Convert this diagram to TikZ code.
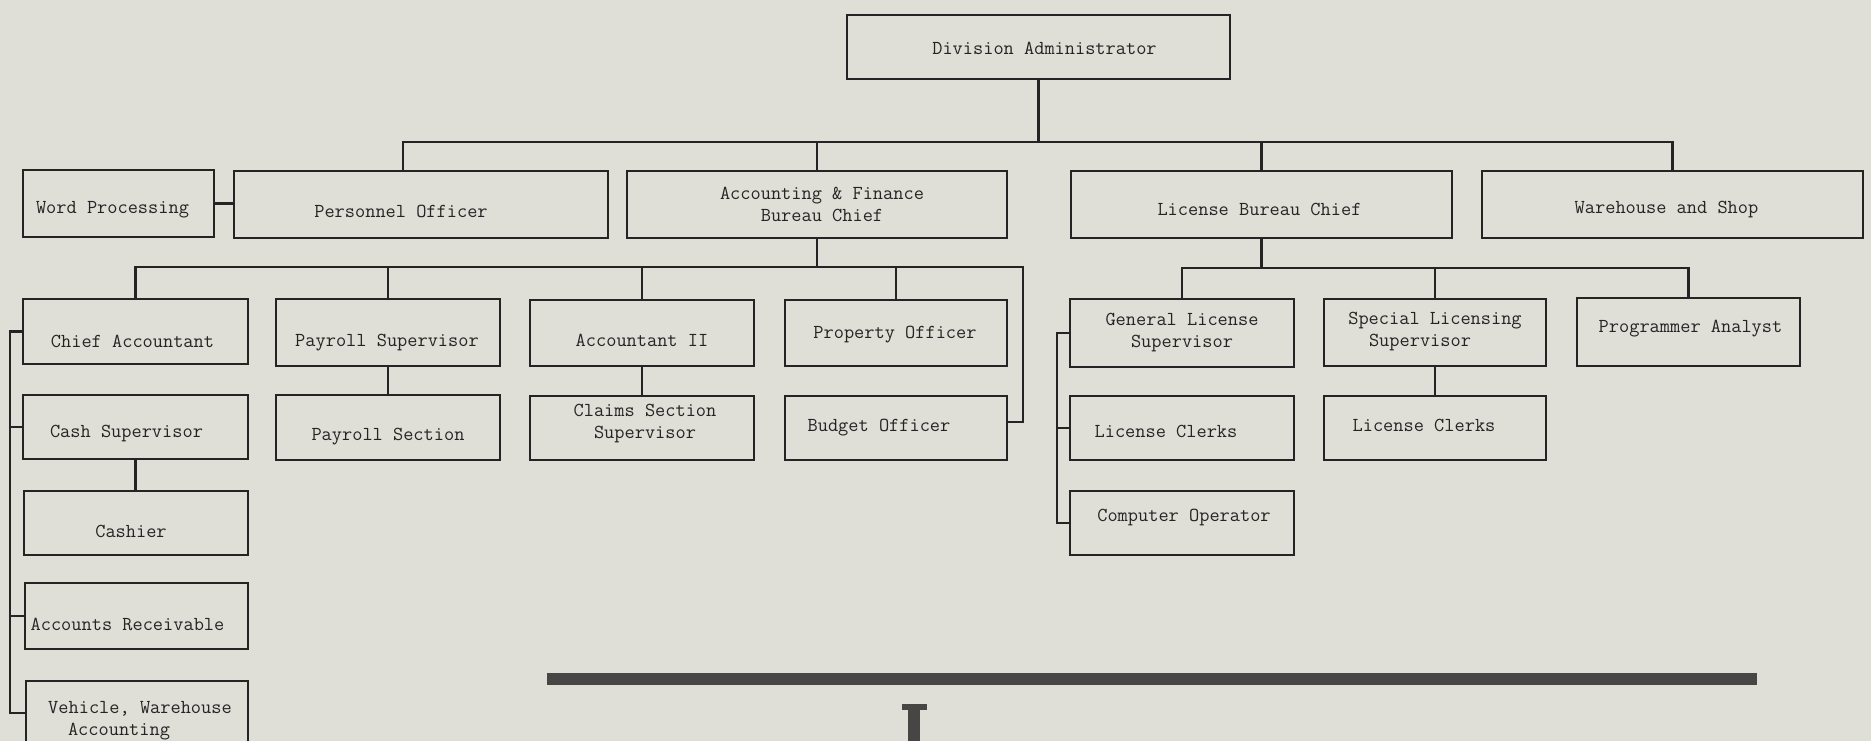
\documentclass[tikz,border=0pt]{standalone}
\usepackage{fontspec}
\usetikzlibrary{calc}
\definecolor{bg}{RGB}{223,222,215}
\definecolor{ink}{RGB}{36,36,36}
\definecolor{barc}{RGB}{72,70,68}
\tikzset{
  box/.style={draw=ink, line width=2.7pt, rectangle, inner sep=0pt, fill=none},
  txt/.style={text=ink, font=\fontsize{19.8}{22}\selectfont\ttfamily, align=center, inner sep=0pt},
  conn/.style={draw=ink, line width=2.2pt},
}
% name, x1, y1, x2, y2, text, dx, dy
\newcommand\orgbox[8]{%
  \pgfmathsetmacro\obw{#4-#2}%
  \pgfmathsetmacro\obh{#5-#3}%
  \node[box, minimum width=\obw pt, minimum height=\obh pt] (#1) at ({(#2+#4)/2},{(#3+#5)/2}) {};
  \node[txt] (#1-t) at ({(#2+#4)/2+#7},{(#3+#5)/2+#8}) {#6};
}
\begin{document}
\begin{tikzpicture}[x=1pt,y=-1pt]
\clip (0,0) rectangle (1871,741);
\fill[bg] (0,0) rectangle (1871,741);

% level 0 and 1
\orgbox{div}{847}{15}{1230}{79}{Division Administrator}{6}{1}
\orgbox{wp}{23}{170}{214}{237}{Word Processing}{-6}{6}
\orgbox{pers}{234}{171}{608}{238}{Personnel Officer}{-20}{7}
\orgbox{acct}{627}{171}{1007}{238}{Accounting \& Finance\\Bureau Chief}{5}{0}
\orgbox{lic}{1071}{171}{1452}{238}{License Bureau Chief}{-2}{5}
\orgbox{ware}{1482}{171}{1863}{238}{Warehouse and Shop}{-6}{5}

% level 2 (accounting)
\orgbox{chief}{23}{299}{248}{364}{Chief Accountant}{-3}{10}
\orgbox{pays}{276}{299}{500}{366}{Payroll Supervisor}{-1}{10}
\orgbox{acc2}{530}{300}{754}{366}{Accountant II}{0}{7}
\orgbox{prop}{785}{300}{1007}{366}{Property Officer}{-1}{2}
\orgbox{cash}{23}{395}{248}{459}{Cash Supervisor}{-9}{7}
\orgbox{paysec}{276}{395}{500}{460}{Payroll Section}{0}{9}
\orgbox{claims}{530}{396}{754}{460}{Claims Section\\Supervisor}{3}{-4}
\orgbox{budget}{785}{396}{1007}{460}{Budget Officer}{-17}{0}
\orgbox{cashier}{24}{491}{248}{555}{Cashier}{-5}{8}
\orgbox{ar}{25}{583}{248}{649}{Accounts Receivable}{-9}{8}
\orgbox{veh}{26}{681}{248}{745}{Vehicle, Warehouse\\Accounting\hspace*{42pt}}{3}{8}

% level 2 (licensing)
\orgbox{gen}{1070}{299}{1294}{367}{General License\\Supervisor}{0}{0}
\orgbox{spec}{1324}{299}{1546}{366}{Special Licensing\\Supervisor\hspace*{30pt}}{0}{-1}
\orgbox{prog}{1577}{298}{1800}{366}{Programmer Analyst}{2}{-3}
\orgbox{lc1}{1070}{396}{1294}{460}{License Clerks}{-16}{3}
\orgbox{lc2}{1324}{396}{1546}{460}{License Clerks}{-11}{-3}
\orgbox{comp}{1070}{491}{1294}{555}{Computer Operator}{2}{-5}

% helper coordinates
\coordinate (bus1) at (0,142);
\coordinate (xp) at (403,0);
\coordinate (bus2) at (0,267);
\coordinate (r2) at (1023,267);
\coordinate (yb) at (0,422);
\coordinate (bus3) at (0,268);
\coordinate (lb) at (10,0);
\coordinate (lb2) at (1057,0);

% top level connectors
\draw[conn] (div.south) -- (div.south |- bus1);
\draw[conn] (pers.north -| xp) -- (xp |- bus1) -- (ware.north |- bus1) -- (ware.north);
\draw[conn] (acct.north) -- (acct.north |- bus1);
\draw[conn] (lic.north) -- (lic.north |- bus1);
\draw[conn] (wp.east) -- (wp.east -| pers.west);

% accounting connectors
\draw[conn] (acct.south) -- (acct.south |- bus2);
\draw[conn] (chief.north) -- (chief.north |- bus2) -- (r2) |- (budget.east |- yb);
\draw[conn] (pays.north) -- (pays.north |- bus2);
\draw[conn] (acc2.north) -- (acc2.north |- bus2);
\draw[conn] (prop.north) -- (prop.north |- bus2);
\draw[conn] (pays.south) -- (pays.south |- paysec.north);
\draw[conn] (acc2.south) -- (acc2.south |- claims.north);
\draw[conn] (cash.south) -- (cash.south |- cashier.north);
\draw[conn] (chief.west) -- (chief.west -| lb) -- (veh.west -| lb) -- (veh.west);
\draw[conn] (cash.west -| lb) -- (cash.west);
\draw[conn] (ar.west -| lb) -- (ar.west);

% licensing connectors
\draw[conn] (lic.south) -- (lic.south |- bus3);
\draw[conn] (gen.north) -- (gen.north |- bus3) -- (prog.north |- bus3) -- (prog.north);
\draw[conn] (spec.north) -- (spec.north |- bus3);
\draw[conn] (spec.south) -- (spec.south |- lc2.north);
\draw[conn] (gen.west) -- (gen.west -| lb2) -- (comp.west -| lb2) -- (comp.west);
\draw[conn] (lc1.west -| lb2) -- (lc1.west);

% dark strip and mark at the bottom
\fill[barc] (547,673) rectangle (1757,685);
\fill[barc] (902,704) rectangle (927,710);
\fill[barc] (908,704) rectangle (920,745);
\end{tikzpicture}
\end{document}
